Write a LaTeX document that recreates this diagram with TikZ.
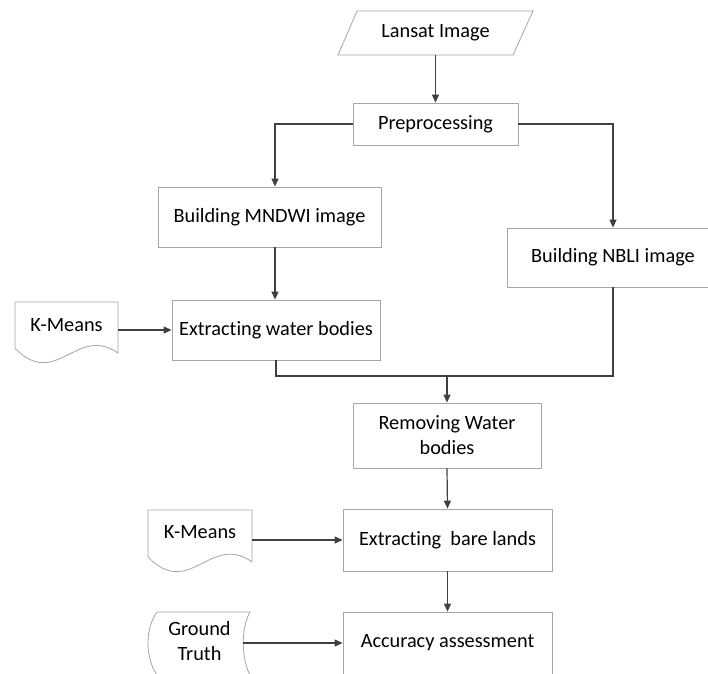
\documentclass[tikz,border=0pt]{standalone}
\usepackage{fontspec}
\setmainfont[Ligatures=NoCommon]{Carlito}
\usetikzlibrary{arrows.meta,calc}
\definecolor{boxgray}{RGB}{165,165,165}
\definecolor{conngray}{RGB}{64,64,64}
\newcommand\mydocshape[4]{%
  \draw[shapeline] ({#1},{#2}) -- ({#1+#3},{#2}) -- ({#1+#3},{#2+0.85*#4})
    .. controls ({#1+0.6*#3},{#2+0.37*#4}) and ({#1+0.4*#3},{#2+1.47*#4}) ..
    ({#1},{#2+0.77*#4}) -- cycle;}
\begin{document}
\begin{tikzpicture}[x=1pt,y=-1pt,
  font=\fontsize{20.3}{25}\selectfont,
  shapeline/.style={draw=boxgray, fill=white, line width=0.8pt},
  box/.style={draw=boxgray, fill=white, line width=0.8pt, inner sep=0pt, align=center},
  lbl/.style={inner sep=0pt, align=center},
  link/.style={draw=conngray, line width=1.2pt},
  conn/.style={link, -{Triangle[length=8pt,width=7pt]}}]
\useasboundingbox (0,0) rectangle (708,673);
\clip (0,0) rectangle (708,673);

% input parallelogram
\draw[shapeline] (357,11) -- (533,11) -- (513,55) -- (338,55) -- cycle;
\node[lbl, minimum width=176pt, minimum height=44pt] (lansat) at (435.5,33) {Lansat Image};

% process boxes
\node[box, minimum width=165pt, minimum height=42pt] (pre) at (435.5,124) {Preprocessing};
\node[box, minimum width=223pt, minimum height=60pt] (mndwi) at (269.5,217) {Building MNDWI image};
\node[box, minimum width=212pt, minimum height=59pt] (nbli) at (613,257.5) {Building NBLI image};
\node[box, minimum width=208pt, minimum height=60pt] (water) at (276,330) {Extracting water bodies};
\node[box, minimum width=188pt, minimum height=65pt] (remove) at (447,435.5) {Removing Water\\bodies};
\node[box, minimum width=209pt, minimum height=62pt] (bare) at (447.5,540) {Extracting~ bare lands};
\node[box, minimum width=209pt, minimum height=62pt] (acc) at (447.5,643) {Accuracy assessment};

% document shapes
\mydocshape{15}{302}{103}{60}
\node[lbl, minimum width=103pt, minimum height=40pt] (k1) at (66.5,325) {K-Means};
\mydocshape{148}{510}{104}{61}
\node[lbl, minimum width=104pt, minimum height=40pt] (k2) at (200,532) {K-Means};

% stored data shape
\draw[shapeline] (157,612) -- (250,612) .. controls (241,628) and (241,658) .. (250,675)
  -- (157,675) .. controls (145,658) and (145,628) .. (157,612) -- cycle;
\node[lbl, minimum width=87pt, minimum height=50pt] (gt) at (199.5,641) {Ground\\Truth};

% connectors
\draw[conn] (lansat.south) -- (pre.north);
\draw[conn] (pre.west) -| ([xshift=5.5pt]mndwi.north);
\draw[conn] (pre.east) -| (nbli.north);
\draw[conn] ([xshift=5.5pt]mndwi.south) -- ([xshift=5.5pt]mndwi.south |- water.north);
\draw[conn] (k1.east |- water.west) -- (water.west);
\coordinate (j) at (447,376);
\draw[link] (water.south) |- (j) -| (nbli.south);
\draw[conn] (j) -- (remove.north);
\draw[conn] (remove.south) -- (bare.north);
\draw[conn] (k2.east |- bare.west) -- (bare.west);
\draw[conn] (bare.south) -- (acc.north);
\draw[conn] (gt.east |- acc.west) -- (acc.west);
\end{tikzpicture}
\end{document}
